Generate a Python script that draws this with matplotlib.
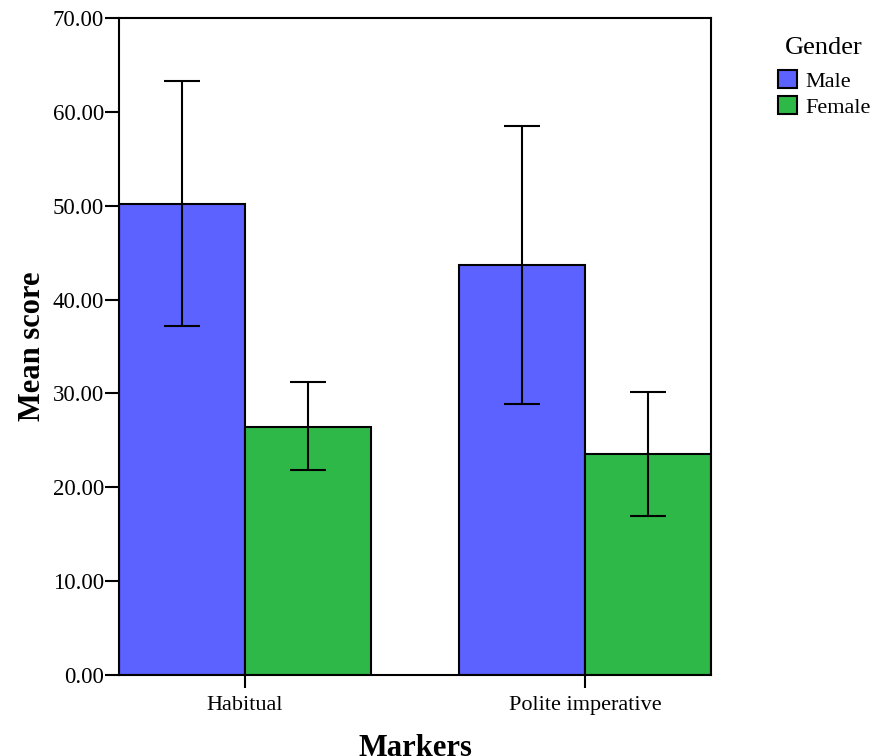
import numpy as np
import matplotlib.pyplot as plt
from matplotlib.patches import Patch

plt.rcParams['font.family'] = ['Liberation Serif', 'DejaVu Serif']

# Data
markers = ["Habitual", "Polite imperative"]
genders = ["Male", "Female"]
male_mean = [50.2, 43.7]
male_low = [37.2, 28.9]
male_high = [63.3, 58.5]
female_mean = [26.4, 23.5]
female_low = [21.8, 16.9]
female_high = [31.2, 30.2]

colors = ["#5B62FF", "#2EB848"]

fig = plt.figure(figsize=(8.72, 7.56), dpi=100)
ax = fig.add_axes([0.1365, 0.1071, 0.6789, 0.8691])

x = np.arange(len(markers))
w = 0.3706

for means, lows, highs, offset, col in [
    (male_mean, male_low, male_high, -w / 2, colors[0]),
    (female_mean, female_low, female_high, w / 2, colors[1]),
]:
    means = np.array(means)
    err = [means - np.array(lows), np.array(highs) - means]
    ax.bar(x + offset, means, width=w, color=col, edgecolor="black", linewidth=1.5, zorder=2)
    ax.errorbar(x + offset, means, yerr=err, fmt="none", ecolor="black",
                elinewidth=1.5, capsize=13, capthick=1.5, zorder=3)

ax.set_xlim(-w, 1 + w)
ax.set_ylim(0, 70)
ax.set_yticks(np.arange(0, 71, 10))
ax.set_yticklabels([f"{v:.2f}" for v in np.arange(0, 71, 10)], fontsize=16.5)
ax.set_xticks(x)
ax.set_xticklabels(markers, fontsize=16)
ax.tick_params(axis="y", direction="out", length=10, width=1.5, pad=1)
ax.tick_params(axis="x", direction="out", length=9, width=1.5, pad=6)
for s in ax.spines.values():
    s.set_linewidth(1.5)

ax.set_ylabel("Mean score", fontsize=22, fontweight="bold", labelpad=4)
ax.set_xlabel("Markers", fontsize=22, fontweight="bold", labelpad=14)

handles = [Patch(facecolor=c, edgecolor="black", linewidth=1.5) for c in colors]
leg = fig.legend(handles, genders, title="Gender", loc="upper left",
                 bbox_to_anchor=(0.892, 0.951), frameon=False, fontsize=16,
                 title_fontsize=19, handlelength=0.86, handleheight=0.86,
                 handletextpad=0.36, labelspacing=0.2, borderpad=0,
                 borderaxespad=0)
leg._legend_box.sep = 8

fig.savefig("out.png", dpi=100)
